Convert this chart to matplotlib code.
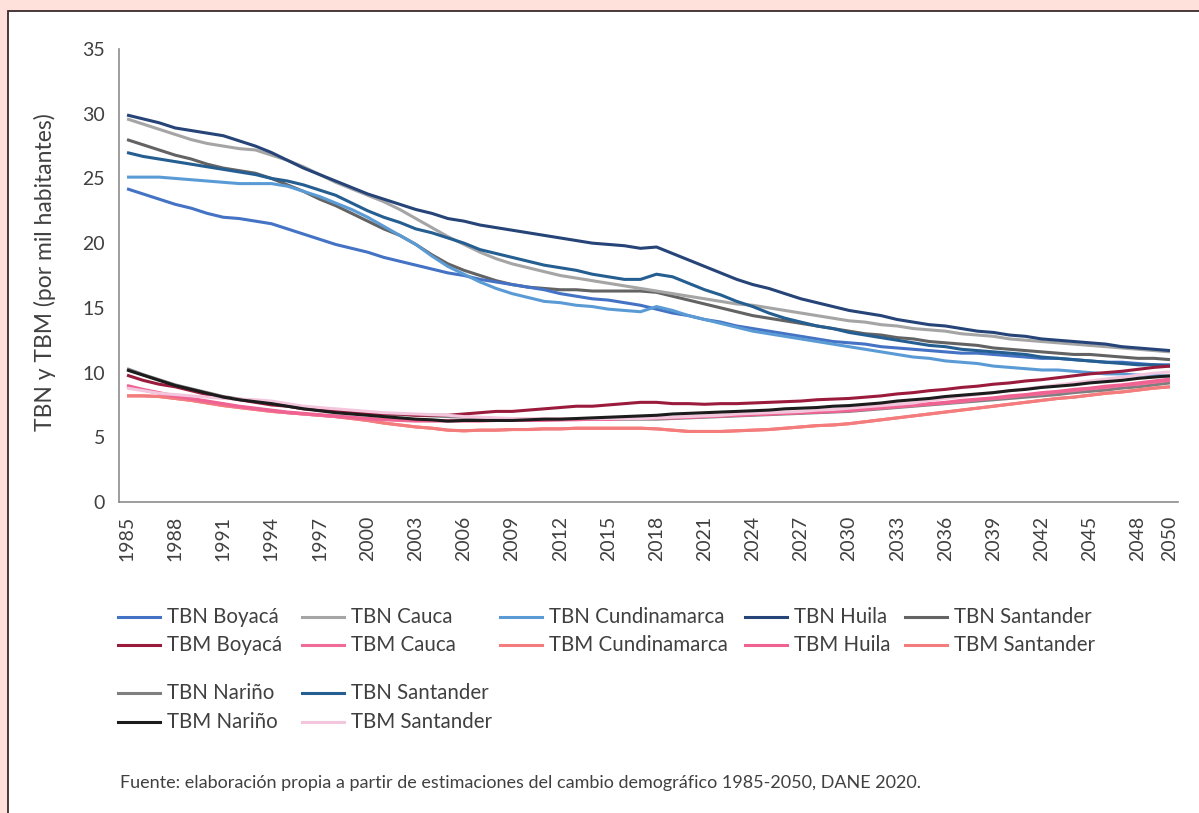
import matplotlib as mpl
mpl.use('Agg')
import matplotlib.pyplot as plt
from matplotlib.patches import Rectangle
from matplotlib.lines import Line2D

plt.rcParams['font.family'] = ['Lato', 'DejaVu Sans']

anios = list(range(1985, 2051))
anios_etiqueta = list(range(1985, 2049, 3)) + [2050]

# tasas brutas de natalidad (por mil habitantes)
tbn_boyaca = [24.2, 23.8, 23.4, 23.0, 22.7,
              22.3, 22.0, 21.9, 21.7, 21.5, 21.1, 20.7, 20.3, 19.9, 19.6,
              19.3, 18.9, 18.6, 18.3, 18.0, 17.7, 17.5, 17.2, 17.0, 16.8,
              16.6, 16.4, 16.1, 15.9, 15.7, 15.6, 15.4, 15.2, 14.9, 14.6,
              14.4, 14.1, 13.9, 13.6, 13.4, 13.2, 13.0, 12.8, 12.6, 12.4,
              12.3, 12.2, 12.0, 11.9, 11.8, 11.7, 11.6, 11.5, 11.5, 11.4,
              11.3, 11.2, 11.1, 11.1, 11.0, 10.9, 10.8, 10.8, 10.7, 10.6,
              10.6]
tbn_cauca = [29.6, 29.2, 28.8, 28.4, 28.0,
             27.7, 27.5, 27.3, 27.2, 26.8, 26.4, 25.9, 25.3, 24.7, 24.2,
             23.7, 23.2, 22.6, 21.9, 21.2, 20.5, 19.9, 19.3, 18.8, 18.4,
             18.1, 17.8, 17.5, 17.3, 17.1, 16.9, 16.7, 16.5, 16.3, 16.1,
             15.9, 15.7, 15.5, 15.3, 15.2, 15.0, 14.8, 14.6, 14.4, 14.2,
             14.0, 13.9, 13.7, 13.6, 13.4, 13.3, 13.2, 13.0, 12.9, 12.8,
             12.6, 12.5, 12.4, 12.3, 12.2, 12.1, 12.0, 11.9, 11.8, 11.7,
             11.6]
tbn_cundinamarca = [25.1, 25.1, 25.1, 25.0, 24.9,
                    24.8, 24.7, 24.6, 24.6, 24.6, 24.4, 24.0, 23.6, 23.1, 22.6,
                    22.0, 21.3, 20.6, 19.9, 19.0, 18.2, 17.6, 17.0, 16.5, 16.1,
                    15.8, 15.5, 15.4, 15.2, 15.1, 14.9, 14.8, 14.7, 15.1, 14.8,
                    14.4, 14.1, 13.8, 13.5, 13.2, 13.0, 12.8, 12.6, 12.4, 12.2,
                    12.0, 11.8, 11.6, 11.4, 11.2, 11.1, 10.9, 10.8, 10.7, 10.5,
                    10.4, 10.3, 10.2, 10.2, 10.1, 10.0, 9.9, 9.9, 9.8, 9.8,
                    9.7]
tbn_huila = [29.9, 29.6, 29.3, 28.9, 28.7,
             28.5, 28.3, 27.9, 27.5, 27.0, 26.4, 25.8, 25.3, 24.8, 24.3,
             23.8, 23.4, 23.0, 22.6, 22.3, 21.9, 21.7, 21.4, 21.2, 21.0,
             20.8, 20.6, 20.4, 20.2, 20.0, 19.9, 19.8, 19.6, 19.7, 19.2,
             18.7, 18.2, 17.7, 17.2, 16.8, 16.5, 16.1, 15.7, 15.4, 15.1,
             14.8, 14.6, 14.4, 14.1, 13.9, 13.7, 13.6, 13.4, 13.2, 13.1,
             12.9, 12.8, 12.6, 12.5, 12.4, 12.3, 12.2, 12.0, 11.9, 11.8,
             11.7]
tbn_santander_g = [28.0, 27.6, 27.2, 26.8, 26.5,
                   26.1, 25.8, 25.6, 25.4, 25.0, 24.5, 24.0, 23.4, 22.9, 22.3,
                   21.7, 21.1, 20.6, 19.9, 19.1, 18.4, 17.9, 17.5, 17.1, 16.8,
                   16.6, 16.5, 16.4, 16.4, 16.3, 16.3, 16.3, 16.3, 16.2, 15.9,
                   15.6, 15.3, 15.0, 14.7, 14.4, 14.2, 14.0, 13.8, 13.6, 13.4,
                   13.2, 13.0, 12.9, 12.7, 12.6, 12.4, 12.3, 12.2, 12.1, 11.9,
                   11.8, 11.7, 11.6, 11.5, 11.4, 11.4, 11.3, 11.2, 11.1, 11.1,
                   11.0]
tbn_santander_a = [27.0, 26.7, 26.5, 26.3, 26.1,
                   25.9, 25.7, 25.5, 25.3, 25.0, 24.8, 24.5, 24.1, 23.7, 23.1,
                   22.5, 22.0, 21.6, 21.1, 20.8, 20.4, 20.0, 19.5, 19.2, 18.9,
                   18.6, 18.3, 18.1, 17.9, 17.6, 17.4, 17.2, 17.2, 17.6, 17.4,
                   16.9, 16.4, 16.0, 15.5, 15.1, 14.6, 14.2, 13.9, 13.6, 13.4,
                   13.1, 12.9, 12.7, 12.5, 12.3, 12.1, 12.0, 11.8, 11.7, 11.6,
                   11.5, 11.4, 11.2, 11.1, 11.0, 10.9, 10.8, 10.7, 10.6, 10.6,
                   10.5]
tbn_narino = [10.3, 9.85, 9.45, 9.05, 8.75,
              8.45, 8.15, 7.95, 7.8, 7.65, 7.5, 7.35, 7.2, 7.1, 7.0,
              6.9, 6.8, 6.75, 6.7, 6.65, 6.6, 6.55, 6.5, 6.45, 6.4,
              6.4, 6.4, 6.4, 6.4, 6.4, 6.4, 6.4, 6.4, 6.4, 6.45,
              6.5, 6.55, 6.6, 6.65, 6.7, 6.75, 6.8, 6.85, 6.9, 6.95,
              7.0, 7.1, 7.2, 7.3, 7.4, 7.5, 7.6, 7.7, 7.8, 7.9,
              8.0, 8.1, 8.2, 8.3, 8.45, 8.55, 8.65, 8.8, 8.9, 9.05,
              9.2]

# tasas brutas de mortalidad (por mil habitantes)
tbm_boyaca = [9.8, 9.4, 9.1, 8.9, 8.6,
              8.3, 8.1, 7.9, 7.7, 7.5, 7.4, 7.2, 7.1, 7.0, 6.9,
              6.8, 6.8, 6.8, 6.7, 6.7, 6.7, 6.8, 6.9, 7.0, 7.0,
              7.1, 7.2, 7.3, 7.4, 7.4, 7.5, 7.6, 7.7, 7.7, 7.6,
              7.6, 7.55, 7.6, 7.6, 7.65, 7.7, 7.75, 7.8, 7.9, 7.95,
              8.0, 8.1, 8.2, 8.35, 8.45, 8.6, 8.7, 8.85, 8.95, 9.1,
              9.2, 9.35, 9.45, 9.6, 9.75, 9.9, 10.0, 10.1, 10.25, 10.4,
              10.5]
tbm_cauca = [8.95, 8.65, 8.4, 8.15, 7.95,
             7.75, 7.55, 7.35, 7.2, 7.05, 6.9, 6.8, 6.7, 6.6, 6.5,
             6.4, 6.35, 6.3, 6.25, 6.25, 6.25, 6.25, 6.25, 6.3, 6.3,
             6.3, 6.3, 6.35, 6.35, 6.4, 6.4, 6.45, 6.45, 6.5, 6.5,
             6.55, 6.6, 6.65, 6.7, 6.75, 6.8, 6.85, 6.9, 6.95, 7.0,
             7.05, 7.15, 7.25, 7.35, 7.45, 7.55, 7.65, 7.75, 7.9, 8.0,
             8.1, 8.25, 8.35, 8.5, 8.6, 8.75, 8.85, 9.0, 9.1, 9.25,
             9.4]
tbm_cundinamarca = [8.2, 8.2, 8.15, 8.0, 7.85,
                    7.65, 7.45, 7.3, 7.15, 7.0, 6.9, 6.8, 6.7, 6.6, 6.45,
                    6.3, 6.1, 5.95, 5.8, 5.7, 5.55, 5.5, 5.55, 5.55, 5.6,
                    5.6, 5.65, 5.65, 5.7, 5.7, 5.7, 5.7, 5.7, 5.65, 5.55,
                    5.45, 5.45, 5.45, 5.5, 5.55, 5.6, 5.7, 5.8, 5.9, 5.95,
                    6.05, 6.2, 6.35, 6.5, 6.65, 6.8, 6.95, 7.1, 7.25, 7.4,
                    7.55, 7.7, 7.85, 8.0, 8.1, 8.25, 8.4, 8.5, 8.65, 8.8,
                    8.9]
tbm_huila = [9.0, 8.7, 8.45, 8.2, 8.0,
             7.8, 7.6, 7.4, 7.25, 7.1, 6.95, 6.85, 6.75, 6.65, 6.55,
             6.45, 6.4, 6.35, 6.3, 6.3, 6.3, 6.3, 6.3, 6.3, 6.3,
             6.3, 6.35, 6.35, 6.4, 6.4, 6.4, 6.45, 6.45, 6.5, 6.5,
             6.55, 6.6, 6.65, 6.7, 6.75, 6.8, 6.85, 6.9, 6.95, 7.0,
             7.1, 7.2, 7.3, 7.4, 7.5, 7.6, 7.7, 7.85, 7.95, 8.05,
             8.2, 8.3, 8.45, 8.55, 8.7, 8.8, 8.95, 9.05, 9.2, 9.35,
             9.5]
tbm_santander_s = [8.2, 8.2, 8.15, 8.0, 7.85,
                   7.65, 7.45, 7.3, 7.15, 7.0, 6.9, 6.8, 6.7, 6.6, 6.45,
                   6.3, 6.1, 5.95, 5.8, 5.7, 5.55, 5.5, 5.55, 5.55, 5.6,
                   5.6, 5.65, 5.65, 5.7, 5.7, 5.7, 5.7, 5.7, 5.65, 5.55,
                   5.45, 5.45, 5.45, 5.5, 5.55, 5.6, 5.7, 5.8, 5.9, 5.95,
                   6.05, 6.2, 6.35, 6.5, 6.65, 6.8, 6.95, 7.1, 7.25, 7.4,
                   7.55, 7.7, 7.85, 8.0, 8.1, 8.25, 8.4, 8.5, 8.65, 8.8,
                   8.9]
tbm_narino = [10.2, 9.8, 9.4, 9.0, 8.7,
              8.4, 8.1, 7.9, 7.75, 7.6, 7.4, 7.2, 7.05, 6.9, 6.8,
              6.7, 6.6, 6.5, 6.4, 6.35, 6.25, 6.3, 6.3, 6.3, 6.3,
              6.35, 6.4, 6.4, 6.45, 6.5, 6.55, 6.6, 6.65, 6.7, 6.8,
              6.85, 6.9, 6.95, 7.0, 7.05, 7.1, 7.2, 7.25, 7.3, 7.4,
              7.45, 7.55, 7.65, 7.8, 7.9, 8.0, 8.15, 8.25, 8.35, 8.45,
              8.6, 8.7, 8.85, 8.95, 9.05, 9.2, 9.3, 9.4, 9.55, 9.65,
              9.75]
tbm_santander_r = [8.8, 8.6, 8.4, 8.3, 8.2,
                   8.1, 8.0, 7.95, 7.9, 7.8, 7.6, 7.4, 7.3, 7.2, 7.1,
                   7.0, 6.9, 6.85, 6.8, 6.75, 6.7, 6.6, 6.55, 6.5, 6.45,
                   6.45, 6.45, 6.45, 6.45, 6.45, 6.45, 6.45, 6.45, 6.5, 6.55,
                   6.6, 6.65, 6.7, 6.8, 6.85, 6.9, 6.95, 7.0, 7.1, 7.15,
                   7.25, 7.35, 7.45, 7.55, 7.65, 7.85, 8.0, 8.15, 8.3, 8.45,
                   8.6, 8.75, 8.9, 9.05, 9.2, 9.35, 9.5, 9.65, 9.8, 9.95,
                   10.05]

# (etiqueta, datos, color) en el orden de la leyenda
grupo1 = [
    ("TBN Boyacá", tbn_boyaca, "#4472C4"),
    ("TBN Cauca", tbn_cauca, "#A5A5A5"),
    ("TBN Cundinamarca", tbn_cundinamarca, "#5B9BD5"),
    ("TBN Huila", tbn_huila, "#264478"),
    ("TBN Santander", tbn_santander_g, "#636363"),
    ("TBM Boyacá", tbm_boyaca, "#9B1B3C"),
    ("TBM Cauca", tbm_cauca, "#EF6C98"),
    ("TBM Cundinamarca", tbm_cundinamarca, "#F47C7C"),
    ("TBM Huila", tbm_huila, "#F06292"),
    ("TBM Santander", tbm_santander_s, "#F47C7C"),
]
grupo2 = [
    ("TBN Nariño", tbn_narino, "#7F7F7F"),
    ("TBN Santander", tbn_santander_a, "#255E91"),
    ("TBM Nariño", tbm_narino, "#1C1C1C"),
    ("TBM Santander", tbm_santander_r, "#F3C6DD"),
]

W, H = 1199, 813
texto = '#404040'
fig = plt.figure(figsize=(W / 100, H / 100), dpi=100)
fig.patch.set_facecolor('#FDE1DA')
fig.patches.append(Rectangle((8 / W, -0.01), 1.0, 1 + 0.01 - 11 / H,
                             transform=fig.transFigure, facecolor='white',
                             edgecolor='#3B2A2A', lw=1.3, zorder=-5))

ax = fig.add_axes([119 / W, 1 - 502 / H, 1059 / W, 453 / H])
ax.set_facecolor('none')

orden = [grupo1[i] for i in (4, 1, 0, 2, 3)] + [grupo2[1], grupo2[0]] + \
        [grupo1[i] for i in (7, 9, 6, 8, 5)] + [grupo2[3], grupo2[2]]
for nombre, datos, color in orden:
    assert len(datos) == len(anios), nombre
    ax.plot(anios, datos, color=color, lw=2.2, solid_capstyle='butt')

ax.set_xlim(1984.5, 2050.5)
ax.set_ylim(0, 35)
ax.set_yticks(range(0, 36, 5))
ax.set_xticks(anios_etiqueta)
ax.set_xticklabels([str(a) for a in anios_etiqueta], rotation=90)
ax.tick_params(length=0, labelsize=14, colors=texto)
ax.tick_params(axis='x', pad=10)
ax.tick_params(axis='y', pad=10)
for s in ('top', 'right'):
    ax.spines[s].set_visible(False)
for s in ('left', 'bottom'):
    ax.spines[s].set_color('#8C8C8C')
    ax.spines[s].set_linewidth(1.2)

fig.text(45 / W, 1 - 272 / H, "TBN y TBM (por mil habitantes)", rotation=90,
         ha='center', va='center', fontsize=16.5, color=texto)

# leyenda dibujada a mano, como en el original
col_x = [118, 302, 500, 745, 905]
filas1 = [617, 645]
filas2 = [693, 722]
for k, (nombre, _, color) in enumerate(grupo1):
    c, f = k % 5, k // 5
    x0, y0 = col_x[c], filas1[f]
    fig.add_artist(Line2D([x0 / W, (x0 + 42) / W], [1 - y0 / H] * 2,
                          color=color, lw=2.2, transform=fig.transFigure))
    fig.text((x0 + 49) / W, 1 - y0 / H, nombre, ha='left', va='center',
             fontsize=14.8, color=texto)
for k, (nombre, _, color) in enumerate(grupo2):
    c, f = k % 2, k // 2
    x0, y0 = col_x[c], filas2[f]
    fig.add_artist(Line2D([x0 / W, (x0 + 42) / W], [1 - y0 / H] * 2,
                          color=color, lw=2.2, transform=fig.transFigure))
    fig.text((x0 + 49) / W, 1 - y0 / H, nombre, ha='left', va='center',
             fontsize=14.8, color=texto)

fig.text(120 / W, 1 - 783 / H,
         "Fuente: elaboración propia a partir de estimaciones del cambio "
         "demográfico 1985-2050, DANE 2020.",
         ha='left', va='center', fontsize=13, color=texto)

fig.savefig('out.png', dpi=100, facecolor=fig.get_facecolor())
